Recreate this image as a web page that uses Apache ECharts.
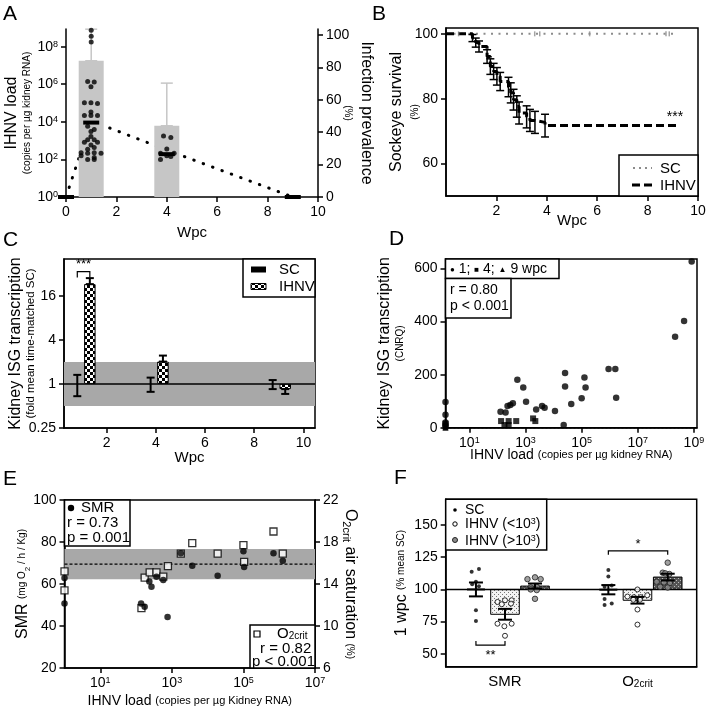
<!DOCTYPE html>
<html><head><meta charset="utf-8">
<script src="https://cdn.jsdelivr.net/npm/echarts@6/dist/echarts.min.js"></script>
<style>html,body{margin:0;padding:0;background:#fff}#c{width:709px;height:712px}</style>
</head><body><div id="c"></div>
<script>
// ================= DATA =================
// Panel A : IHNV load (log10 copies) and infection prevalence (%)
const aBarWpc = [1, 4];
const aBarLog10 = [7.25, 3.79];
const aBarUpperLog10 = [8.93, 6.06];
const aMedWpc = [0, 1, 4, 9];
const aMedLog10 = [0, 3.96, 2.28, 0];
const aPrevWpc = [0, 1, 4, 9];
const aPrevPct = [0, 47, 29, 0];
const aPts1Wpc = [1.0,1.0,1.0,0.86,1.12,0.99,0.73,0.99,1.25,0.99,0.73,0.99,1.25,1.12,0.86,0.99,0.99,0.86,1.12,0.73,1.25,0.99,0.86,1.12,0.6,0.86,1.12,1.39,0.6,0.86,1.12,1.12];
const aPts1Log10 = [8.87,8.55,8.25,6.15,6.12,5.87,5.01,5.01,4.98,4.52,4.34,4.34,4.34,3.59,3.77,3.48,3.22,3.04,3.04,2.92,2.92,2.77,2.54,2.63,2.36,2.33,2.36,2.33,2.2,2.0,2.1,2.0];
const aPts4Wpc = [3.87,4.16,4.0,3.75,4.29,3.75,4.16,4.0];
const aPts4Log10 = [3.25,3.16,2.56,2.33,2.33,2.0,2.15,2.2];
const aXTicks = [0,2,4,6,8,10];
const aYTicksLog10 = [0,2,4,6,8];
const aY2Ticks = [0,20,40,60,80,100];

// Panel B : survival (%)
const bIhnvWpc  = [0, 1.05, 1.18, 1.31, 1.63, 1.76, 1.89, 2.02, 2.15, 2.48, 2.57, 2.68, 2.81, 2.9, 3.2, 3.33, 3.53, 3.93, 9.19];
const bIhnvSurv = [100, 98.7, 97.3, 96.1, 93.0, 89.9, 88.4, 86.9, 85.3, 83.6, 81.8, 79.7, 77.6, 75.6, 74.4, 73.3, 72.7, 71.7, 71.7];
const bIhnvSem  = [0, 1.1, 1.4, 1.7, 2.1, 2.4, 2.5, 2.7, 2.8, 3.0, 3.1, 3.2, 3.3, 3.4, 3.4, 3.4, 3.4, 3.5, 0];
const bScWpc = [0, 9.2];
const bScSurv = [100, 100];
const bScCensorWpc = [0.5, 3.52, 3.72, 5.7, 8.73, 8.86];
const bXTicks = [2,4,6,8,10];
const bYTicks = [60,80,100];

// Panel C : kidney ISG fold change
const cScWpc = [0.81, 3.79, 8.75];
const cScLow = [0.68, 0.78, 0.85];
const cScHigh = [1.33, 1.22, 1.13];
const cIhnvWpc = [1.32, 4.29, 9.26];
const cIhnvFold = [23.1, 2.02, 0.85];
const cIhnvErr = [27.9, 2.44, 0.73];
const cBand = [0.5, 2];
const cXTicks = [2,4,6,8,10];
const cYTicks = [0.25, 1, 4, 16];

// Panel D : ISG (CNRQ) vs IHNV load (log10)
const dWk1Log10 = [8.92,8.65,8.33,5.96,6.2,6.23,5.1,5.14,5.0,4.63,4.41,4.41,4.05,3.68,3.59,3.38,3.02,2.92,2.71,2.55,2.46,2.36,2.29,2.11,4.36,0.15,0.15,0.15,0.15];
const dWk1Isg   = [627,402,343,221,221,113,189,152,111,89,206,155,63,75,82,69,98,152,181,92,86,82,57,60,10,97,49,20,8];
const dWk4Log10 = [2.13,2.25,2.4,2.4,2.67,3.27,3.35,0.15,0.15];
const dWk4Isg   = [25,10,25,10,25,35,25,15,5];
const dWk9Log10 = [0.15,0.15];
const dWk9Isg   = [2,0];
const dXTicksLog10 = [1,3,5,7,9];
const dYTicks = [0,200,400,600];

// Panel E : SMR and O2crit vs IHNV load (log10)
const eSmrLog10 = [0,0,3.25,2.37,2.43,2.57,2.76,2.14,2.24,2.88,3.57,4.28,5.0,5.02,5.84,6.1];
const eSmr      = [62.8,50.7,74.6,61.2,58.7,63.4,61.9,50.7,49.2,44.3,68.7,63.9,75.6,68.1,74.6,71.1];
const eO2Log10  = [0,0,2.15,2.24,2.38,2.57,2.76,2.89,3.25,3.57,4.28,5.0,5.02,5.84,6.1];
const eO2crit   = [15.2,13.4,11.7,14.6,15.1,15.1,14.7,15.7,16.9,17.9,16.9,17.7,16.1,19.0,16.9];
const eSmrBand = [62.3, 76.7];
const eSmrMean = 69.5;
const eXTicksLog10 = [1,3,5,7];
const eYTicks = [20,40,60,80,100];
const eY2Ticks = [6,10,14,18,22];

// Panel F : 1 wpc (% mean SC)
const fCats = ['SMR', 'O2crit'];
const fCatX = [0.4725, 1.528];
const fScX = [0.241, 1.296];
const fLowX = [0.4725, 1.528];
const fHighX = [0.7115, 1.769];
const fScMean = [100, 99.8],   fScSem = [5.4, 3.6];
const fLowMean = [80.7, 91.6], fLowSem = [4.2, 2.6];
const fHighMean = [102.6, 109.6], fHighSem = [2.0, 2.6];
const fScSmr  = [113.8,115.9,106,104,102.5,83.8,75.5];
const fScSmrJ = [-0.034,0.024,0,-0.03,0.024,0,0];
const fLowSmr  = [90.3,91.6,91.6,88.5,89,73.4,71.4,73.4,64];
const fLowSmrJ = [-0.06,0,0.053,-0.026,0.048,-0.06,-0.005,0.053,0];
const fHighSmr  = [108,109.4,108,101.5,102,100,99.5,92.7];
const fHighSmrJ = [-0.06,0,0.045,-0.034,0.014,-0.034,0.014,0];
const fScO2  = [115,110,102,103,92.5,88,89];
const fScO2J = [0,0,-0.03,0.027,-0.03,-0.03,0.027];
const fLowO2  = [100,94.5,94,94,95.5,92,92,84.4,72.7];
const fLowO2J = [0,-0.08,-0.028,0.025,0.078,-0.033,0.02,0,0];
const fHighO2  = [120.8,113,112,112.5,106,105,105.5,102,101.5];
const fHighO2J = [0,-0.04,0.013,-0.02,-0.088,0.018,-0.03,-0.06,0];
const fBrX1 = [0.241, 1.296];
const fBrX2 = [0.4725, 1.769];
const fBrY = [56.8, 130];
const fBrLabel = ['**', '*'];
const fYTicks = [50,75,100,125,150];

// ================= HELPERS =================
const FONT = '"Liberation Sans", Arial, Helvetica, sans-serif';
const zip = (a, b) => a.map((v, i) => [v, b[i]]);
const L2 = Math.log2;

function pattern(w, h, draw) {
  const c = document.createElement('canvas'); c.width = w; c.height = h;
  const g = c.getContext('2d'); draw(g); return c;
}
const checker = pattern(6, 6, g => { g.fillStyle = '#fff'; g.fillRect(0,0,6,6); g.fillStyle = '#000'; g.fillRect(0,0,3,3); g.fillRect(3,3,3,3); });
const stippleLight = pattern(4, 4, g => { g.fillStyle = '#f4f4f4'; g.fillRect(0,0,4,4); g.fillStyle = '#777'; g.fillRect(0,0,1,1); g.fillRect(2,2,1,1); });
const stippleDark = pattern(4, 4, g => { g.fillStyle = '#555'; g.fillRect(0,0,4,4); g.fillStyle = '#bbb'; g.fillRect(0,0,1,1); g.fillRect(2,2,1,1); });

const RICH = {
  s: {fontSize: 9, fontFamily: FONT, color: '#000', verticalAlign: 'top'},
  u: {fontSize: 10, fontFamily: FONT, color: '#000', verticalAlign: 'bottom'}
};
const AL = {show: true, onZero: false, lineStyle: {color: '#000', width: 1.5}};
const AT = v => ({show: true, inside: false, length: 5, customValues: v, lineStyle: {color: '#000', width: 1.5}});
const LBL = (v, fmt, size) => ({show: true, customValues: v, formatter: fmt, color: '#000', fontSize: size || 14, fontFamily: FONT, margin: 8, rich: RICH});
const sup10 = v => '10{s|' + v + '}';
const NAMESTYLE = {
  color: '#000', fontFamily: FONT,
  rich: {
    a: {fontSize: 16, lineHeight: 18, fontFamily: FONT, color: '#000'},
    a2: {fontSize: 16, lineHeight: 24, fontFamily: FONT, color: '#000'},
    b: {fontSize: 10, lineHeight: 13, fontFamily: FONT, color: '#000'},
    c: {fontSize: 11.5, lineHeight: 13, fontFamily: FONT, color: '#000'},
    x: {fontSize: 14, fontFamily: FONT, color: '#000'},
    xs: {fontSize: 11, fontFamily: FONT, color: '#000'},
    as: {fontSize: 11, fontFamily: FONT, color: '#000', verticalAlign: 'bottom'},
    bs: {fontSize: 8, fontFamily: FONT, color: '#000', verticalAlign: 'bottom'}
  }
};
const NOSPLIT = {show: false};
const WPCSTYLE = {color: '#000', fontFamily: FONT, fontSize: 15};

function rErr(cap, color, lw) {
  return function (params, api) {
    const x = api.value(0), a = api.coord([x, api.value(1)]), b = api.coord([x, api.value(2)]);
    const st = {stroke: color, lineWidth: lw};
    return {type: 'group', children: [
      {type: 'line', shape: {x1: a[0], y1: a[1], x2: b[0], y2: b[1]}, style: st},
      {type: 'line', shape: {x1: a[0]-cap, y1: a[1], x2: a[0]+cap, y2: a[1]}, style: st},
      {type: 'line', shape: {x1: b[0]-cap, y1: b[1], x2: b[0]+cap, y2: b[1]}, style: st}
    ]};
  };
}
function rMark(halfW, halfH, color) {
  return function (params, api) {
    const p = api.coord([api.value(0), api.value(1)]);
    return {type: 'rect', shape: {x: p[0]-halfW, y: p[1]-halfH, width: 2*halfW, height: 2*halfH}, style: {fill: color}};
  };
}
function rBand(color) {
  return function (params, api) {
    const cs = params.coordSys;
    const y1 = api.coord([0, api.value(0)])[1], y2 = api.coord([0, api.value(1)])[1];
    return {type: 'rect', shape: {x: cs.x, y: Math.min(y1, y2), width: cs.width, height: Math.abs(y2-y1)}, style: {fill: color}};
  };
}
function rHLine(color, lw, dash) {
  return function (params, api) {
    const cs = params.coordSys;
    const y = api.coord([0, api.value(0)])[1];
    return {type: 'line', shape: {x1: cs.x, y1: y, x2: cs.x + cs.width, y2: y}, style: {stroke: color, lineWidth: lw, lineDash: dash || null}};
  };
}
function rBar(halfW, fill) {
  return function (params, api) {
    const x = api.value(0), a = api.coord([x, api.value(1)]), b = api.coord([x, api.value(2)]);
    return {type: 'rect', shape: {x: a[0]-halfW, y: Math.min(a[1], b[1]), width: 2*halfW, height: Math.abs(a[1]-b[1])},
      style: {fill: {image: fill, repeat: 'repeat'}, stroke: '#000', lineWidth: 1}};
  };
}
function rBracket(labels, tick, textDy, fontSize) {
  return function (params, api) {
    const i = params.dataIndex;
    const a = api.coord([api.value(0), api.value(2)]), b = api.coord([api.value(1), api.value(2)]);
    const t = tick[i], st = {stroke: '#000', lineWidth: 1.2};
    return {type: 'group', children: [
      {type: 'polyline', shape: {points: [[a[0], a[1]+t], [a[0], a[1]], [b[0], b[1]], [b[0], b[1]+t]]}, style: Object.assign({fill: null}, st)},
      {type: 'text', style: {text: labels[i], x: (a[0]+b[0])/2, y: a[1] + textDy[i], align: 'center', verticalAlign: 'middle', textAlign: 'center', textVerticalAlign: 'middle', fontSize: fontSize, fontFamily: FONT, fill: '#000'}}
    ]};
  };
}
function T(text, x, y, size, extra) {
  return {type: 'text', z: 100, style: Object.assign({text: text, x: x, y: y, fontSize: size, fontFamily: FONT, fill: '#000',
    align: 'left', verticalAlign: 'middle', textAlign: 'left', textVerticalAlign: 'middle'}, extra || {})};
}
function R(x, y, w, h, fill, lw) {
  return {type: 'rect', z: 99, shape: {x: x, y: y, width: w, height: h}, style: {fill: fill || '#fff', stroke: '#000', lineWidth: lw || 1.5}};
}
function ax(o) {
  return Object.assign({type: 'value', axisLine: AL, splitLine: NOSPLIT, nameMoveOverlap: false, nameLocation: 'middle'}, o);
}

// ================= OPTION =================
const boxGrid = {show: true, borderColor: '#000', borderWidth: 1.5, backgroundColor: 'transparent', outerBoundsMode: 'none'};
const option = {
  animation: false,
  backgroundColor: '#fff',
  textStyle: {fontFamily: FONT},
  grid: [
    {left: 66, top: 29, width: 252, height: 168, outerBoundsMode: 'none'},
    Object.assign({left: 446, top: 28, width: 252, height: 168}, boxGrid),
    Object.assign({left: 64, top: 259, width: 251, height: 169}, boxGrid),
    Object.assign({left: 445.5, top: 259, width: 251.5, height: 168.7}, boxGrid),
    Object.assign({left: 64.5, top: 500, width: 250.5, height: 168}, boxGrid),
    Object.assign({left: 445.7, top: 499.3, width: 251, height: 167.4}, boxGrid)
  ],
  xAxis: [
    ax({gridIndex: 0, min: 0, max: 10, axisTick: AT(aXTicks), axisLabel: LBL(aXTicks), name: 'Wpc', nameGap: 28, nameTextStyle: WPCSTYLE}),
    ax({gridIndex: 1, min: 0, max: 10, axisTick: AT(bXTicks), axisLabel: LBL(bXTicks), name: 'Wpc', nameGap: 17.5, nameTextStyle: WPCSTYLE}),
    ax({gridIndex: 2, min: 0.27, max: 10.47, axisTick: AT(cXTicks), axisLabel: LBL(cXTicks), name: 'Wpc', nameGap: 22, nameTextStyle: WPCSTYLE}),
    ax({gridIndex: 3, min: 0.15, max: 9.11, axisTick: AT(dXTicksLog10), axisLabel: LBL(dXTicksLog10, sup10),
      name: '{x|IHNV load }{xs|(copies per µg kidney RNA)}', nameGap: 20, nameTextStyle: NAMESTYLE}),
    ax({gridIndex: 4, min: 0, max: 7, axisTick: AT(eXTicksLog10), axisLabel: LBL(eXTicksLog10, sup10),
      name: '{x|IHNV load }{xs|(copies per µg Kidney RNA)}', nameGap: 26, nameTextStyle: NAMESTYLE}),
    ax({gridIndex: 5, min: 0, max: 2, axisTick: {show: false},
      axisLabel: LBL(fCatX, v => (v < 1 ? fCats[0] : 'O{u|2crit}'), 15)})
  ],
  yAxis: [
    ax({gridIndex: 0, min: 0, max: 8.94, axisTick: AT(aYTicksLog10), axisLabel: LBL(aYTicksLog10, sup10),
      name: '{a|IHNV load}\n{b|(copies per µg kidney RNA)}', nameGap: 32.5, nameRotate: 90, nameTextStyle: NAMESTYLE}),
    ax({gridIndex: 0, position: 'right', min: 0, max: 103.7, axisTick: AT(aY2Ticks), axisLabel: LBL(aY2Ticks),
      name: '{a2|Infection prevalence}\n{b|(%)}', nameGap: 23, nameRotate: -90, nameTextStyle: NAMESTYLE}),
    ax({gridIndex: 1, min: 50, max: 101.8, axisTick: AT(bYTicks), axisLabel: LBL(bYTicks),
      name: '{a2|Sockeye survival}\n{b|(%)}', nameGap: 24.5, nameRotate: 90, nameTextStyle: NAMESTYLE}),
    ax({gridIndex: 2, min: -2, max: 5.67, axisTick: AT(cYTicks.map(L2)), axisLabel: LBL(cYTicks.map(L2), v => String(Math.pow(2, v))),
      name: '{a|Kidney ISG transcription}\n{c|(fold mean time-matched SC)}', nameGap: 26.5, nameRotate: 90, nameTextStyle: NAMESTYLE}),
    ax({gridIndex: 3, min: 0, max: 636, axisTick: AT(dYTicks), axisLabel: LBL(dYTicks),
      name: '{a|Kidney ISG transcription}\n{b|(CNRQ)}', nameGap: 39, nameRotate: 90, nameTextStyle: NAMESTYLE}),
    ax({gridIndex: 4, min: 20, max: 100, axisTick: AT(eYTicks), axisLabel: LBL(eYTicks),
      name: '{a|SMR }{b|(mg O}{bs|2}{b| / h / Kg)}', nameGap: 33, nameRotate: 90, nameTextStyle: NAMESTYLE}),
    ax({gridIndex: 4, position: 'right', min: 6, max: 22, axisTick: AT(eY2Ticks), axisLabel: LBL(eY2Ticks),
      name: '{a|O}{as|2crit}{a| air saturation }{b|(%)}', nameGap: 26, nameRotate: -90, nameTextStyle: NAMESTYLE}),
    ax({gridIndex: 5, min: 40, max: 170, axisTick: AT(fYTicks), axisLabel: LBL(fYTicks),
      name: '{a|1 wpc }{b|(% mean SC)}', nameGap: 35, nameRotate: 90, nameTextStyle: NAMESTYLE})
  ],
  series: [
    // ---- A ----
    {type: 'line', xAxisIndex: 0, yAxisIndex: 1, z: 1, data: zip(aPrevWpc, aPrevPct), showSymbol: false, symbol: 'none',
      lineStyle: {color: '#000', width: 3, type: [0.5, 9.5], cap: 'round'}},
    {type: 'bar', xAxisIndex: 0, yAxisIndex: 0, z: 2, barWidth: 25, data: zip(aBarWpc, aBarLog10), itemStyle: {color: '#c6c6c6'}},
    {type: 'custom', xAxisIndex: 0, yAxisIndex: 0, z: 3, renderItem: rErr(6, '#c6c6c6', 1.5),
      data: aBarWpc.map((x, i) => [x, aBarLog10[i], aBarUpperLog10[i]])},
    {type: 'scatter', xAxisIndex: 0, yAxisIndex: 0, z: 5, symbolSize: 5, itemStyle: {color: '#000'}, clip: false,
      data: zip(aPts1Wpc, aPts1Log10).concat(zip(aPts4Wpc, aPts4Log10))},
    {type: 'custom', xAxisIndex: 0, yAxisIndex: 0, z: 6, renderItem: rMark(8, 2, '#000'), data: zip(aMedWpc, aMedLog10)},
    // ---- B ----
    {type: 'line', xAxisIndex: 1, yAxisIndex: 2, z: 2, data: zip(bScWpc, bScSurv), showSymbol: false, symbol: 'none',
      lineStyle: {color: '#8c8c8c', width: 2, type: [2, 5.5]}},
    {type: 'scatter', xAxisIndex: 1, yAxisIndex: 2, z: 3, symbol: 'rect', symbolSize: [1.5, 5], itemStyle: {color: '#8c8c8c'},
      data: bScCensorWpc.map(x => [x, 100])},
    {type: 'line', xAxisIndex: 1, yAxisIndex: 2, z: 3, step: 'end', data: zip(bIhnvWpc, bIhnvSurv), showSymbol: false, symbol: 'none',
      lineStyle: {color: '#000', width: 3, type: [8, 4]}},
    {type: 'custom', xAxisIndex: 1, yAxisIndex: 2, z: 4, renderItem: rErr(4, '#000', 1.5),
      data: bIhnvWpc.map((x, i) => [x, bIhnvSurv[i]-bIhnvSem[i], bIhnvSurv[i]+bIhnvSem[i]]).filter((d, i) => bIhnvSem[i] > 0)},
    // ---- C ----
    {type: 'custom', xAxisIndex: 2, yAxisIndex: 3, z: 1, renderItem: rBand('#a8a8a8'), data: [[L2(cBand[0]), L2(cBand[1])]]},
    {type: 'custom', xAxisIndex: 2, yAxisIndex: 3, z: 2, renderItem: rHLine('#000', 1.5), data: [[L2(1)]]},
    {type: 'bar', xAxisIndex: 2, yAxisIndex: 3, z: 3, barWidth: 11.5, data: zip(cIhnvWpc, cIhnvFold.map(L2)),
      itemStyle: {color: {image: checker, repeat: 'repeat'}, borderColor: '#000', borderWidth: 1}},
    {type: 'custom', xAxisIndex: 2, yAxisIndex: 3, z: 4, renderItem: rErr(4, '#000', 2),
      data: cIhnvWpc.map((x, i) => [x, L2(cIhnvFold[i]), L2(cIhnvErr[i])])},
    {type: 'custom', xAxisIndex: 2, yAxisIndex: 3, z: 4, renderItem: rErr(4, '#000', 2),
      data: cScWpc.map((x, i) => [x, L2(cScLow[i]), L2(cScHigh[i])])},
    {type: 'custom', xAxisIndex: 2, yAxisIndex: 3, z: 5, renderItem: rBracket(['***'], [6], [-7], 13),
      data: [[cScWpc[0], cIhnvWpc[0], 5.1]]},
    // ---- D ----
    {type: 'custom', xAxisIndex: 3, yAxisIndex: 4, z: 1, renderItem: rHLine('#000', 1.2, [2, 2]), data: [[0]]},
    {type: 'scatter', xAxisIndex: 3, yAxisIndex: 4, z: 4, clip: false, symbol: 'circle', symbolSize: 6.5, itemStyle: {color: '#000'}, data: zip(dWk1Log10, dWk1Isg)},
    {type: 'scatter', xAxisIndex: 3, yAxisIndex: 4, z: 4, clip: false, symbol: 'rect', symbolSize: 6, itemStyle: {color: '#000'}, data: zip(dWk4Log10, dWk4Isg)},
    {type: 'scatter', xAxisIndex: 3, yAxisIndex: 4, z: 4, clip: false, symbol: 'triangle', symbolSize: 6, itemStyle: {color: '#000'}, data: zip(dWk9Log10, dWk9Isg)},
    // ---- E ----
    {type: 'custom', xAxisIndex: 4, yAxisIndex: 5, z: 1, renderItem: rBand('#a8a8a8'), data: [eSmrBand]},
    {type: 'custom', xAxisIndex: 4, yAxisIndex: 5, z: 2, renderItem: rHLine('#000', 1.2, [3, 2]), data: [[eSmrMean]]},
    {type: 'scatter', xAxisIndex: 4, yAxisIndex: 6, z: 3, clip: false, symbol: 'rect', symbolSize: 7,
      itemStyle: {color: '#fff', borderColor: '#000', borderWidth: 1.3}, data: zip(eO2Log10, eO2crit)},
    {type: 'scatter', xAxisIndex: 4, yAxisIndex: 5, z: 4, clip: false, symbol: 'circle', symbolSize: 6.5, itemStyle: {color: '#000'}, data: zip(eSmrLog10, eSmr)},
    // ---- F ----
    {type: 'custom', xAxisIndex: 5, yAxisIndex: 7, z: 3, renderItem: rBar(14.3, stippleLight), data: fLowX.map((x, i) => [x, 100, fLowMean[i]])},
    {type: 'custom', xAxisIndex: 5, yAxisIndex: 7, z: 3, renderItem: rBar(14.3, stippleDark), data: fHighX.map((x, i) => [x, 100, fHighMean[i]])},
    {type: 'custom', xAxisIndex: 5, yAxisIndex: 7, z: 4, renderItem: rHLine('#000', 1.5), data: [[100]]},
    {type: 'scatter', xAxisIndex: 5, yAxisIndex: 7, z: 5, symbolSize: 4, itemStyle: {color: '#000'},
      data: fScSmr.map((v, i) => [fScX[0] + fScSmrJ[i], v]).concat(fScO2.map((v, i) => [fScX[1] + fScO2J[i], v]))},
    {type: 'scatter', xAxisIndex: 5, yAxisIndex: 7, z: 5, symbolSize: 5, itemStyle: {color: '#fff', borderColor: '#000', borderWidth: 1},
      data: fLowSmr.map((v, i) => [fLowX[0] + fLowSmrJ[i], v]).concat(fLowO2.map((v, i) => [fLowX[1] + fLowO2J[i], v]))},
    {type: 'scatter', xAxisIndex: 5, yAxisIndex: 7, z: 5, symbolSize: 5.5, itemStyle: {color: '#8a8a8a', borderColor: '#222', borderWidth: 1},
      data: fHighSmr.map((v, i) => [fHighX[0] + fHighSmrJ[i], v]).concat(fHighO2.map((v, i) => [fHighX[1] + fHighO2J[i], v]))},
    {type: 'custom', xAxisIndex: 5, yAxisIndex: 7, z: 6, renderItem: rErr(7, '#000', 2),
      data: [].concat(
        fScX.map((x, i) => [x, fScMean[i]-fScSem[i], fScMean[i]+fScSem[i]]),
        fLowX.map((x, i) => [x, fLowMean[i]-fLowSem[i], fLowMean[i]+fLowSem[i]]),
        fHighX.map((x, i) => [x, fHighMean[i]-fHighSem[i], fHighMean[i]+fHighSem[i]]))},
    {type: 'custom', xAxisIndex: 5, yAxisIndex: 7, z: 6, renderItem: rMark(9, 1, '#000'), data: zip(fScX, fScMean)},
    {type: 'custom', xAxisIndex: 5, yAxisIndex: 7, z: 6, renderItem: rBracket(fBrLabel, [-4, 4], [10, -6], 13),
      data: fBrX1.map((x, i) => [x, fBrX2[i], fBrY[i]])}
  ],
  graphic: {elements: [
    // panel letters
    T('A', 3, 14, 21), T('B', 372, 14, 21), T('C', 3, 240, 21), T('D', 389, 239, 21), T('E', 3, 479, 21), T('F', 394, 478, 21),
    // B stars + legend
    T('***', 675, 117, 14, {align: 'center', textAlign: 'center'}),
    R(619, 155, 79, 41),
    {type: 'line', z: 101, shape: {x1: 633, y1: 168, x2: 652, y2: 168}, style: {stroke: '#8c8c8c', lineWidth: 2, lineDash: [2, 4]}},
    {type: 'line', z: 101, shape: {x1: 632, y1: 185, x2: 653, y2: 185}, style: {stroke: '#000', lineWidth: 3, lineDash: [8, 4]}},
    T('SC', 660, 169, 15), T('IHNV', 660, 186, 15),
    // C legend
    R(243, 259, 72, 38),
    {type: 'rect', z: 101, shape: {x: 251, y: 266.5, width: 15, height: 6}, style: {fill: '#000'}},
    {type: 'rect', z: 101, shape: {x: 251, y: 283.5, width: 15, height: 6}, style: {fill: {image: checker, repeat: 'repeat'}, stroke: '#000', lineWidth: 1}},
    T('SC', 279, 270, 15), T('IHNV', 279, 287, 15),
    // D boxes
    R(445.5, 259, 113.5, 19.5), R(445.5, 278.5, 65.5, 39.5),
    T('{m|●} 1; {m|■} 4; {m|▲} 9 wpc', 450, 269.5, 14, {rich: {m: {fontSize: 8, fontFamily: FONT, fill: '#000'}}}),
    T('r = 0.80', 450, 290, 14), T('p < 0.001', 450, 306, 14),
    // E boxes
    R(64.5, 500, 65.5, 46), R(250, 625, 65, 43),
    {type: 'circle', z: 101, shape: {cx: 71, cy: 508, r: 3.2}, style: {fill: '#000'}},
    T('SMR', 81, 508, 15), T('r = 0.73', 67, 523, 15), T('p = 0.001', 67, 537.5, 15),
    {type: 'rect', z: 101, shape: {x: 254, y: 631, width: 6, height: 6}, style: {fill: '#fff', stroke: '#000', lineWidth: 1.2}},
    T('O{u|2crit}', 277, 634, 15, {rich: {u: {fontSize: 10, fontFamily: FONT, fill: '#000', verticalAlign: 'bottom'}}}),
    T('r = 0.82', 260, 648.5, 15), T('p < 0.001', 252, 662, 15),
    // F legend
    R(445.7, 499.3, 101, 50.7),
    {type: 'circle', z: 101, shape: {cx: 455, cy: 510, r: 1.8}, style: {fill: '#000'}},
    {type: 'circle', z: 101, shape: {cx: 455, cy: 524, r: 2.2}, style: {fill: '#fff', stroke: '#000', lineWidth: 1}},
    {type: 'circle', z: 101, shape: {cx: 455, cy: 540, r: 2.5}, style: {fill: '#8a8a8a', stroke: '#222', lineWidth: 1}},
    T('SC', 465, 510, 14),
    T('IHNV (<10{s|3})', 465, 524.5, 14, {rich: {s: {fontSize: 9, fontFamily: FONT, fill: '#000', verticalAlign: 'top'}}}),
    T('IHNV (>10{s|3})', 465, 541, 14, {rich: {s: {fontSize: 9, fontFamily: FONT, fill: '#000', verticalAlign: 'top'}}})
  ]}
};
const chart = echarts.init(document.getElementById('c'), null, {renderer: 'canvas', width: 709, height: 712});
chart.setOption(option);
</script>
</body></html>
